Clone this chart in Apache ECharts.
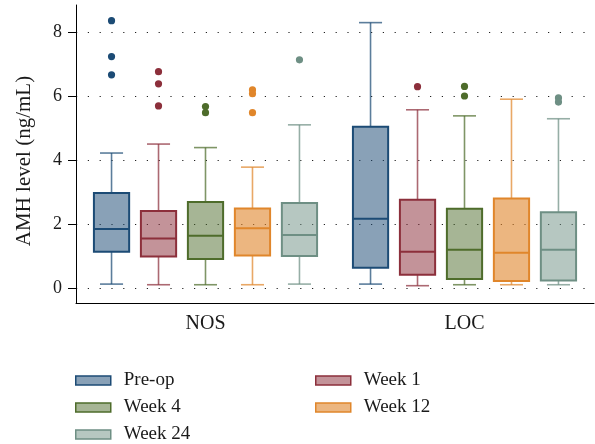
<!DOCTYPE html>
<html>
<head>
<meta charset="utf-8">
<script src="https://cdn.jsdelivr.net/npm/echarts@6/dist/echarts.min.js"></script>
<style>
html,body{margin:0;padding:0;background:#fff;}
#chart{width:595px;height:444px;}
</style>
</head>
<body>
<div id="chart"></div>
<script>
// ---- data ----
const categories = ['NOS', 'LOC'];
const seriesNames = ['Pre-op', 'Week 1', 'Week 4', 'Week 12', 'Week 24'];
const yTicks = [0, 2, 4, 6, 8];
// [min, Q1, median, Q3, max] per category
const preOpBox  = [[0.14, 1.15, 1.86, 2.98, 4.23], [0.14, 0.65, 2.18, 5.05, 8.30]];
const week1Box  = [[0.12, 1.00, 1.56, 2.42, 4.51], [0.09, 0.43, 1.15, 2.77, 5.58]];
const week4Box  = [[0.12, 0.92, 1.65, 2.70, 4.40], [0.12, 0.30, 1.21, 2.49, 5.39]];
const week12Box = [[0.12, 1.03, 1.88, 2.50, 3.79], [0.12, 0.24, 1.12, 2.81, 5.91]];
const week24Box = [[0.14, 1.02, 1.67, 2.67, 5.11], [0.12, 0.25, 1.21, 2.38, 5.30]];
// outliers: [categoryIndex, value]
const preOpOut  = [[0, 8.36], [0, 7.24], [0, 6.67]];
const week1Out  = [[0, 6.77], [0, 6.39], [0, 5.70], [1, 6.30]];
const week4Out  = [[0, 5.68], [0, 5.49], [1, 6.31], [1, 6.01]];
const week12Out = [[0, 6.20], [0, 6.08], [0, 5.49]];
const week24Out = [[0, 7.14], [1, 5.95], [1, 5.82]];

const boxes = [preOpBox, week1Box, week4Box, week12Box, week24Box];
const outs = [preOpOut, week1Out, week4Out, week12Out, week24Out];
const colors = ['#1c4b75', '#8c2f3b', '#4e6c2b', '#e0862b', '#6e8f84'];
const fills = ['rgba(28,75,117,0.52)', 'rgba(140,47,59,0.52)', 'rgba(78,108,43,0.5)', 'rgba(224,134,43,0.6)', 'rgba(110,143,132,0.5)'];

const FONT = 'Liberation Serif';
const SPACING = 0.1814, BOXW = 0.136, CAPW = 0.089;

function boxRender(idx) {
  return function (params, api) {
    const cat = api.value(0);
    const band = api.size([1, 0])[0];
    const off = (idx - 2) * band * SPACING;
    const bw = band * BOXW, cw = band * CAPW;
    const pMin = api.coord([cat, api.value(1)]);
    const pQ1 = api.coord([cat, api.value(2)]);
    const pMed = api.coord([cat, api.value(3)]);
    const pQ3 = api.coord([cat, api.value(4)]);
    const pMax = api.coord([cat, api.value(5)]);
    const x = pMin[0] + off;
    const wStyle = { stroke: colors[idx], lineWidth: 1.6, opacity: 0.72 };
    return {
      type: 'group',
      children: [
        { type: 'line', shape: { x1: x, y1: pQ3[1], x2: x, y2: pMax[1] }, style: wStyle },
        { type: 'line', shape: { x1: x, y1: pQ1[1], x2: x, y2: pMin[1] }, style: wStyle },
        { type: 'line', shape: { x1: x - cw / 2, y1: pMax[1], x2: x + cw / 2, y2: pMax[1] }, style: wStyle },
        { type: 'line', shape: { x1: x - cw / 2, y1: pMin[1], x2: x + cw / 2, y2: pMin[1] }, style: wStyle },
        { type: 'rect', shape: { x: x - bw / 2, y: pQ3[1], width: bw, height: pQ1[1] - pQ3[1] },
          style: { fill: fills[idx], stroke: colors[idx], lineWidth: 2 } },
        { type: 'line', shape: { x1: x - bw / 2, y1: pMed[1], x2: x + bw / 2, y2: pMed[1] },
          style: { stroke: colors[idx], lineWidth: 2 } }
      ]
    };
  };
}
function outRender(idx) {
  return function (params, api) {
    const cat = api.value(0);
    const band = api.size([1, 0])[0];
    const off = (idx - 2) * band * SPACING;
    const p = api.coord([cat, api.value(1)]);
    return { type: 'circle', shape: { cx: p[0] + off, cy: p[1], r: 3.6 }, style: { fill: colors[idx] } };
  };
}

const series = [];
seriesNames.forEach(function (name, i) {
  series.push({
    name: name, type: 'custom', renderItem: boxRender(i),
    itemStyle: { color: fills[i], borderColor: colors[i], borderWidth: 1.5 },
    encode: { x: 0, y: [1, 2, 3, 4, 5] },
    data: boxes[i].map(function (b, c) { return [c].concat(b); }),
    silent: true
  });
  series.push({
    name: name, type: 'custom', renderItem: outRender(i),
    itemStyle: { color: fills[i], borderColor: colors[i], borderWidth: 1.5 },
    encode: { x: 0, y: 1 },
    data: outs[i],
    silent: true
  });
});

function legendItem(i) {
  return { name: seriesNames[i], itemStyle: { color: fills[i], borderColor: colors[i], borderWidth: 1.5 } };
}
const legendText = { fontFamily: FONT, fontSize: 19, color: '#1a1a1a', lineHeight: 18, padding: [0, 0, 0, 8] };

const chart = echarts.init(document.getElementById('chart'), null, { renderer: 'canvas' });
chart.setOption({
  animation: false,
  backgroundColor: '#fff',
  grid: { left: 76, right: 1, top: 5, bottom: 141 },
  xAxis: {
    type: 'category', data: categories, boundaryGap: true,
    axisLine: { show: true, onZero: false, lineStyle: { color: '#000', width: 1 } },
    axisTick: { show: false },
    axisLabel: { fontFamily: FONT, fontSize: 20, color: '#1a1a1a', margin: 11 },
    splitLine: { show: false }
  },
  yAxis: {
    type: 'value', min: -0.45, max: 8.85,
    name: 'AMH level (ng/mL)', nameLocation: 'middle', nameGap: 41,
    nameTextStyle: { fontFamily: FONT, fontSize: 21, color: '#1a1a1a', padding: [0, 14, 0, 0] },
    axisLine: { show: true, lineStyle: { color: '#000', width: 1 } },
    axisTick: { show: true, length: 8, customValues: yTicks, lineStyle: { color: '#000' } },
    axisLabel: { customValues: yTicks, fontFamily: FONT, fontSize: 18, color: '#1a1a1a', margin: 14 },
    splitLine: { show: true, lineStyle: { color: '#222', width: 1.2, type: [1.2, 10.6] } }
  },
  legend: [
    { orient: 'vertical', left: 75, top: 371, width: 200, height: 200, padding: 0, itemWidth: 35, itemHeight: 9, itemGap: 8, icon: 'rect',
      data: [legendItem(0), legendItem(2), legendItem(4)], textStyle: legendText },
    { orient: 'vertical', left: 315, top: 371, width: 200, height: 200, padding: 0, itemWidth: 35, itemHeight: 9, itemGap: 8, icon: 'rect',
      data: [legendItem(1), legendItem(3)], textStyle: legendText }
  ],
  series: series
});
</script>
</body>
</html>
